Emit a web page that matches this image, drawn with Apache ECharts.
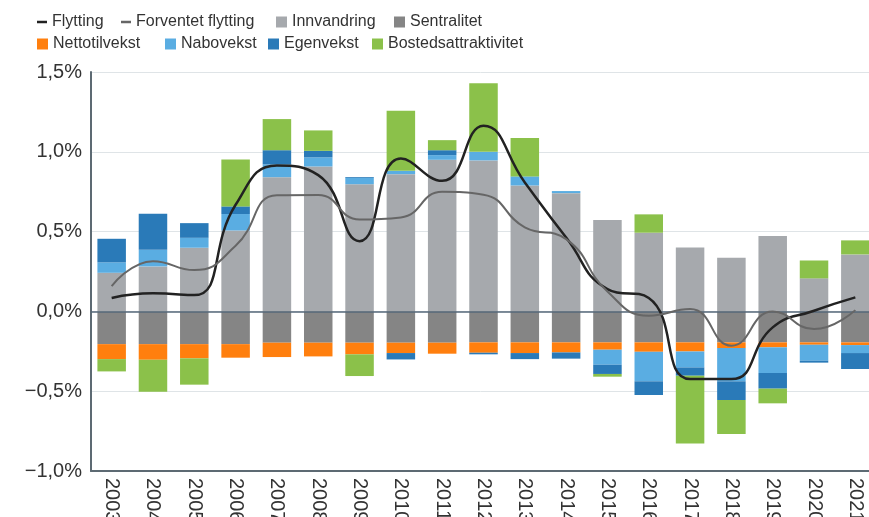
<!DOCTYPE html>
<html lang="no">
<head>
  <meta charset="UTF-8">
  <title>Flytting og komponenter</title>
  <script src="https://cdn.jsdelivr.net/npm/echarts@6/dist/echarts.min.js"></script>
  <style>
    html, body { margin: 0; padding: 0; background: #fff; }
    #main { width: 869px; height: 517px; }
  </style>
</head>
<body>
  <div id="main"></div>
  <script>
    // verdier i prosent, lest av figuren
    const years = ['2003','2004','2005','2006','2007','2008','2009','2010','2011','2012',
                   '2013','2014','2015','2016','2017','2018','2019','2020','2021'];
    const innvandring = [0.242,0.282,0.399,0.507,0.841,0.908,0.797,0.860,0.950,0.946,0.789,0.741,0.572,0.493,0.401,0.336,0.472,0.207,0.357];
    const sentralitet = [-0.205,-0.205,-0.205,-0.205,-0.196,-0.196,-0.196,-0.196,-0.196,-0.194,-0.194,-0.194,-0.194,-0.194,-0.194,-0.194,-0.194,-0.194,-0.194];
    const nettotilvekst = [-0.094,-0.098,-0.089,-0.085,-0.090,-0.086,-0.073,-0.065,-0.069,-0.065,-0.067,-0.063,-0.046,-0.059,-0.057,-0.036,-0.031,-0.015,-0.017];
    const nabovekst = [0.065,0.104,0.062,0.103,0.080,0.057,0.040,0.021,0.029,0.054,0.057,0.013,-0.094,-0.185,-0.100,-0.208,-0.161,-0.100,-0.050];
    const egenvekst = [0.148,0.226,0.092,0.048,0.089,0.041,0.005,-0.040,0.031,-0.010,-0.038,-0.039,-0.058,-0.086,-0.052,-0.117,-0.098,-0.012,-0.100];
    const bosted = [-0.077,-0.200,-0.165,0.294,0.195,0.128,-0.136,0.376,0.063,0.430,0.240,0,-0.017,0.115,-0.424,-0.213,-0.092,0.112,0.088];
    const flytting = [0.084,0.113,0.102,0.668,0.914,0.854,0.440,0.958,0.818,1.163,0.808,0.463,0.140,0.084,-0.424,-0.424,-0.100,0.004,0.088];
    const forventet = [0.159,0.315,0.259,0.411,0.727,0.729,0.576,0.589,0.749,0.731,0.526,0.453,0.125,-0.027,0.015,-0.215,0.000,-0.111,0.008];

    const font = 'Liberation Sans, Arial, sans-serif';

    // legendeplassering, to rader: navn, venstre, topp, strek?
    const legendItems = [
      ['Flytting', 37, 14, true], ['Forventet flytting', 121, 14, true],
      ['Innvandring', 276, 14, false], ['Sentralitet', 394, 14, false],
      ['Nettotilvekst', 37, 36, false], ['Nabovekst', 165, 36, false],
      ['Egenvekst', 268, 36, false], ['Bostedsattraktivitet', 372, 36, false]
    ];

    const chart = echarts.init(document.getElementById('main'));

    function bar(name, data, color) {
      return {
        name: name,
        type: 'bar',
        stack: 'total',
        barWidth: '69%',
        data: data,
        itemStyle: { color: color },
        emphasis: { disabled: true }
      };
    }

    function line(name, data, color, width) {
      return {
        name: name,
        type: 'line',
        data: data,
        smooth: 0.5,
        symbol: 'none',
        z: 5,
        lineStyle: { color: color, width: width },
        itemStyle: { color: color }
      };
    }

    const innv = bar('Innvandring', innvandring, '#a6a9ad');
    innv.markLine = {
      silent: true,
      symbol: 'none',
      label: { show: false },
      lineStyle: { color: '#56697a', width: 1.5, type: 'solid' },
      data: [{ yAxis: 0 }]
    };

    const option = {
      animation: false,
      textStyle: { fontFamily: font },
      legend: legendItems.map(([name, x, y, isLine]) => ({
        data: [{ name: name, icon: 'rect' }],
        left: x,
        top: y,
        padding: 0,
        itemWidth: isLine ? 10 : 11,
        itemHeight: isLine ? 2.5 : 11,
        selectedMode: false,
        textStyle: { fontSize: 16, color: '#333', fontFamily: font }
      })),
      grid: { left: 91, width: 785, top: 72, bottom: 46, outerBoundsMode: 'none' },
      xAxis: {
        type: 'category',
        data: years,
        axisLine: { onZero: false, lineStyle: { color: '#5d6a73', width: 2 } },
        axisTick: { show: false },
        axisLabel: { rotate: -90, fontSize: 20, color: '#333', margin: 7, fontFamily: font }
      },
      yAxis: {
        type: 'value',
        min: -1,
        max: 1.5,
        interval: 0.5,
        axisLine: { show: true, lineStyle: { color: '#5d6a73', width: 2 } },
        axisTick: { show: false },
        splitLine: { lineStyle: { color: '#dfe4e7', width: 1 } },
        axisLabel: {
          fontSize: 20,
          color: '#333',
          margin: 9,
          fontFamily: font,
          formatter: v => (v < 0 ? '\u2212' : '') + Math.abs(v).toFixed(1).replace('.', ',') + '%'
        }
      },
      series: [
        innv,
        bar('Sentralitet', sentralitet, '#858585'),
        bar('Nettotilvekst', nettotilvekst, '#ff7f0e'),
        bar('Nabovekst', nabovekst, '#5aade2'),
        bar('Egenvekst', egenvekst, '#2a7ab8'),
        bar('Bostedsattraktivitet', bosted, '#8bc14a'),
        line('Flytting', flytting, '#222222', 2.5),
        line('Forventet flytting', forventet, '#666666', 2)
      ]
    };

    chart.setOption(option);
  </script>
</body>
</html>
